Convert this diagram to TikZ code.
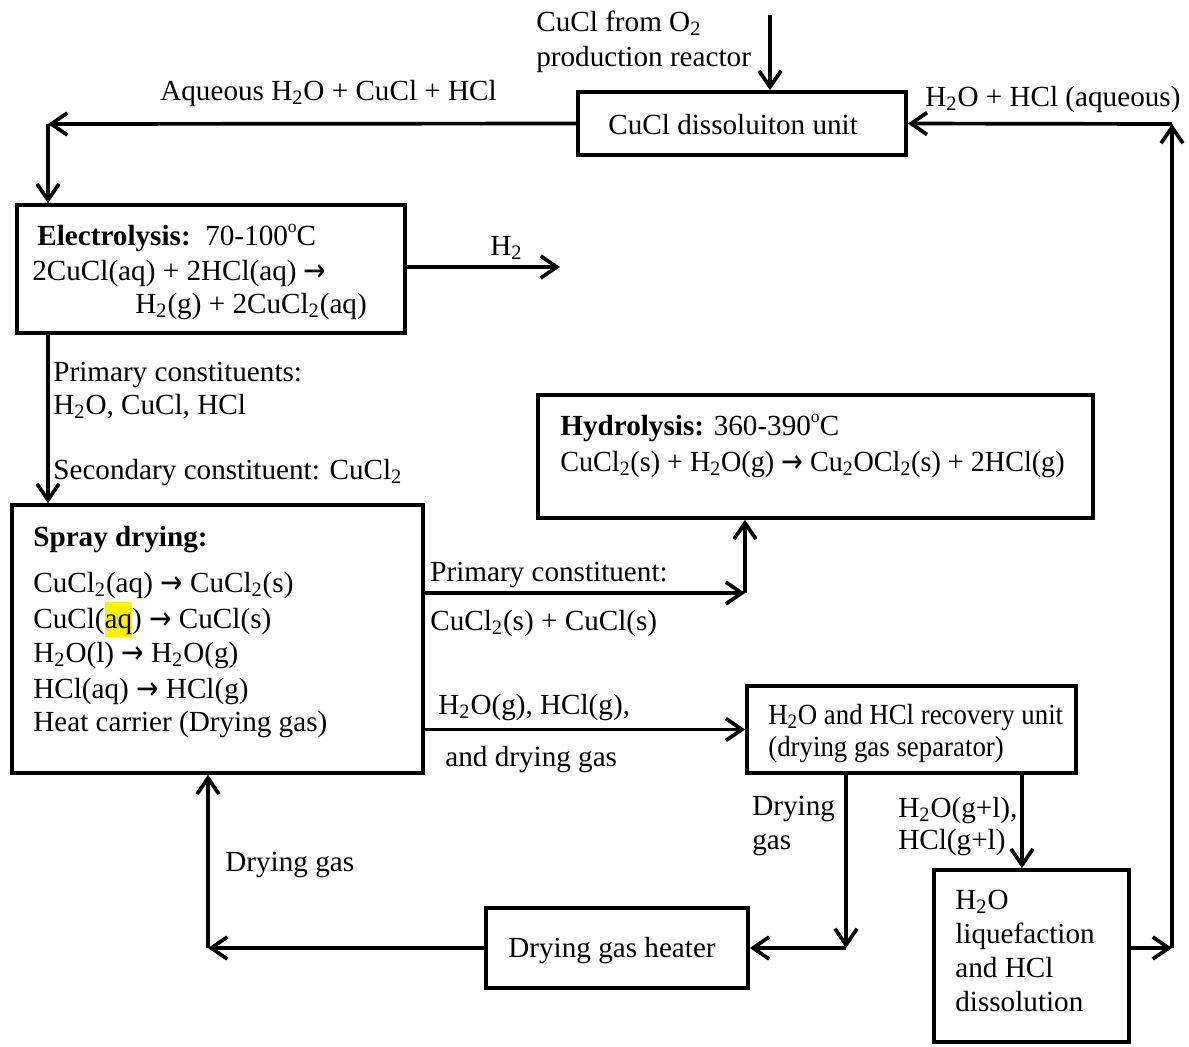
\documentclass[tikz,border=0pt]{standalone}
\usepackage{fontspec}
\setmainfont{Liberation Serif}
\newfontfamily\arrfont{DejaVu Sans}
\usetikzlibrary{arrows.meta,fit}
\newcommand{\fs}{\fontsize{16.6pt}{19.6pt}\selectfont}
\newcommand{\sbs}[1]{\textsubscript{#1}}
\newcommand{\dgr}{\raisebox{0.42em}{\fontsize{10pt}{10pt}\selectfont o}}
\newcommand{\rar}{\raisebox{-0.05em}{\scalebox{0.92}[1.1]{\arrfont →}}}
\newcommand{\hlt}[1]{{\setlength{\fboxsep}{0pt}\colorbox{yellow}{\rule[-0.3em]{0pt}{1.2em}#1}}}
\begin{document}
\begin{tikzpicture}[x=0.02cm,y=-0.02cm,
  box/.style={draw,line width=2.1pt,inner sep=0pt},
  txt/.style={inner sep=0pt,anchor=base west,font=\fs},
  arr/.style={line width=2.1pt,-{Straight Barb[length=0.32cm,width=0.44cm,line width=2.1pt]}}]
\useasboundingbox (0,0) rectangle (1189,1046);

% boxes
\node[box,fit={(578,92) (906,155)}] (diss) {};
\node[box,fit={(17,205) (405,333)}] (elec) {};
\node[box,fit={(12,505) (423,773)}] (spray) {};
\node[box,fit={(538,395) (1093,518)}] (hyd) {};
\node[box,fit={(747,686) (1076,773)}] (rec) {};
\node[box,fit={(486,908) (748,988)}] (heat) {};
\node[box,fit={(934,870) (1129,1042)}] (liq) {};

% texts
\node[txt] (t1) at (536,31) {CuCl from O\sbs{2}};
\node[txt] (t2) at (536,66) {production reactor};
\node[txt] (t3) at (160,100) {Aqueous H\sbs{2}O + CuCl + HCl};
\node[txt] (t4) at (608,134) {CuCl dissoluiton unit};
\node[txt] (t5) at (925,106) {H\sbs{2}O + HCl (aqueous)};
\node[txt] (e1) at (37,245) {\textbf{Electrolysis:}\ \ 70-100\dgr C};
\node[txt] (e2) at (32,280) {2CuCl(aq) + 2HCl(aq) \rar};
\node[txt] (e3) at (135,313) {H\sbs{2}(g) + 2CuCl\sbs{2}(aq)};
\node[txt] (h2) at (490,255) {H\sbs{2}};
\node[txt] (p1) at (53,381) {Primary constituents:};
\node[txt] (p2) at (53,414) {H\sbs{2}O, CuCl, HCl};
\node[txt] (p3) at (53,479) {Secondary constituent: CuCl\sbs{2}};
\node[txt] (s0) at (33,546) {\textbf{Spray drying:}};
\node[txt] (s1) at (33,592) {CuCl\sbs{2}(aq) \rar\ CuCl\sbs{2}(s)};
\node[txt] (s2) at (33,628) {CuCl(\hlt{aq}) \rar\ CuCl(s)};
\node[txt] (s3) at (33,662) {H\sbs{2}O(l) \rar\ H\sbs{2}O(g)};
\node[txt] (s4) at (33,698) {HCl(aq) \rar\ HCl(g)};
\node[txt] (s5) at (33,731) {Heat carrier (Drying gas)};
\node[txt] (y1) at (560,435) {\textbf{Hydrolysis:} 360-390\dgr C};
\node[txt] (y2) at (560,471) {\scalebox{0.965}[1]{CuCl\sbs{2}(s) + H\sbs{2}O(g) \rar\ Cu\sbs{2}OCl\sbs{2}(s) + 2HCl(g)}};
\node[txt] (c1) at (430,581) {Primary constituent:};
\node[txt] (c2) at (430,630) {CuCl\sbs{2}(s) + CuCl(s)};
\node[txt] (g1) at (438,714) {H\sbs{2}O(g), HCl(g),};
\node[txt] (g2) at (445,766) {and drying gas};
\node[txt] (r1) at (768,724) {\scalebox{0.92}[1]{H\sbs{2}O and HCl recovery unit}};
\node[txt] (r2) at (768,756) {\scalebox{0.92}[1]{(drying gas separator)}};
\node[txt] (d1) at (752,815) {Drying};
\node[txt] (d2) at (752,849) {gas};
\node[txt] (w1) at (898,817) {H\sbs{2}O(g+l),};
\node[txt] (w2) at (898,849) {HCl(g+l)};
\node[txt] (dg) at (225,871) {Drying gas};
\node[txt] (ht) at (508,957) {Drying gas heater};
\node[txt] (l1) at (955,909) {H\sbs{2}O};
\node[txt] (l2) at (955,943) {liquefaction};
\node[txt] (l3) at (955,977) {and HCl};
\node[txt] (l4) at (955,1011) {dissolution};

% coordinates
\coordinate (feed) at (770,15);
\coordinate (cA) at (48,124);
\coordinate (h2end) at (560,267);
\coordinate (cB) at (745,593);
\coordinate (cC) at (846,948);
\coordinate (cD) at (1022,800);
\coordinate (cE) at (208,948);
\coordinate (cF) at (1172,948);
\coordinate (cG) at (1172,124);

% connectors
\draw[arr] (feed) -- (feed |- diss.north);
\draw[arr] (diss.west) -- (cA);
\draw[arr] (cA) -- (cA |- elec.north);
\draw[arr] (elec.east |- h2end) -- (h2end);
\draw[arr] (cA |- elec.south) -- (cA |- spray.north);
\draw[arr] (spray.east |- cB) -- (cB);
\draw[arr] (cB) -- (cB |- hyd.south);
\draw[arr] (spray.east |- rec.west) -- (rec.west);
\draw[arr] (cC |- rec.south) -- (cC);
\draw[arr] (cC) -- (heat.east);
\draw[arr] (cD |- rec.south) -- (cD |- liq.north);
\draw[arr] (heat.west) -- (cE);
\draw[arr] (cE) -- (cE |- spray.south);
\draw[arr] (liq.east |- cF) -- (cF);
\draw[arr] (cF) -- (cG);
\draw[arr] (cG) -- (diss.east);
\end{tikzpicture}
\end{document}
